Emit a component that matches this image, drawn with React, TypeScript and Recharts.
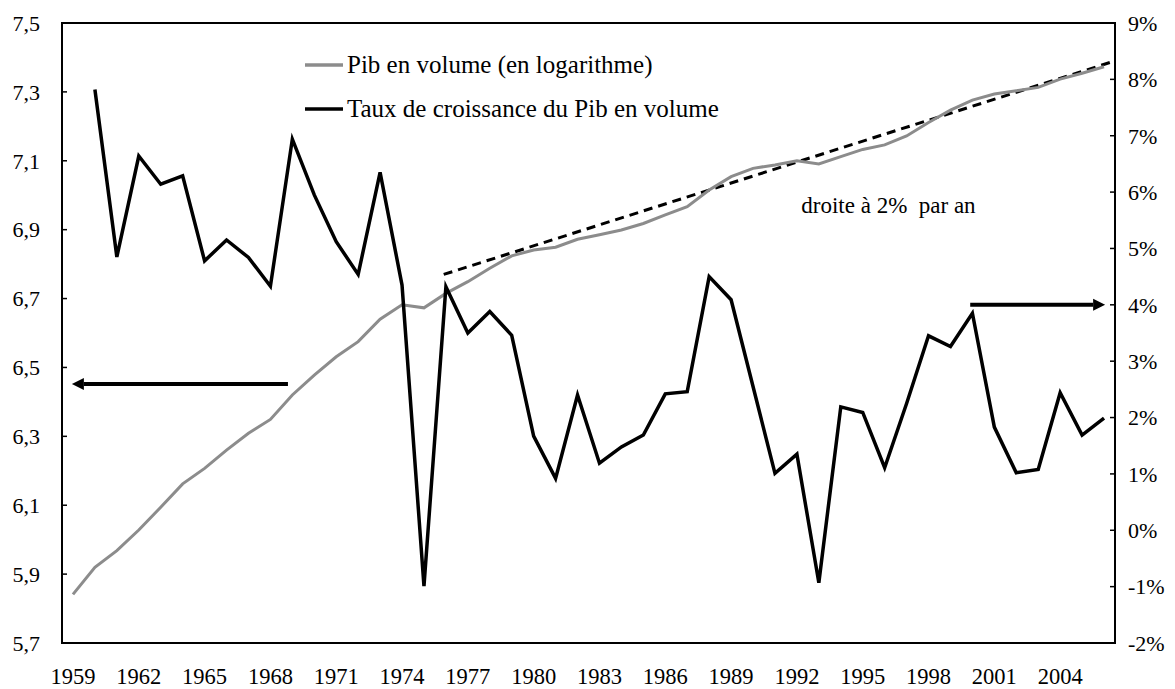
import React from 'react'
import {
  ComposedChart,
  Line,
  XAxis,
  YAxis,
  Legend,
  ReferenceArea,
  ReferenceLine,
  ReferenceDot,
} from 'recharts'

const years = [
  1959, 1960, 1961, 1962, 1963, 1964, 1965, 1966, 1967, 1968, 1969, 1970,
  1971, 1972, 1973, 1974, 1975, 1976, 1977, 1978, 1979, 1980, 1981, 1982,
  1983, 1984, 1985, 1986, 1987, 1988, 1989, 1990, 1991, 1992, 1993, 1994,
  1995, 1996, 1997, 1998, 1999, 2000, 2001, 2002, 2003, 2004, 2005, 2006,
]

// Pib en volume (log), left axis
const pibLog = [
  5.841, 5.92, 5.968, 6.028, 6.094, 6.162, 6.207, 6.26, 6.309, 6.349, 6.42, 6.478,
  6.531, 6.575, 6.64, 6.682, 6.673, 6.715, 6.749, 6.788, 6.824, 6.841, 6.849, 6.872,
  6.885, 6.899, 6.918, 6.943, 6.967, 7.015, 7.054, 7.078, 7.088, 7.1, 7.091, 7.112,
  7.133, 7.146, 7.172, 7.211, 7.247, 7.276, 7.294, 7.303, 7.313, 7.337, 7.354, 7.373,
]

// Taux de croissance (%), right axis -- no value for 1959
const growth = [
  null, 7.82, 4.85, 6.64, 6.14, 6.29, 4.78, 5.15, 4.84, 4.33, 6.94, 5.95,
  5.12, 4.54, 6.35, 4.35, -0.99, 4.32, 3.5, 3.88, 3.46, 1.67, 0.92, 2.4,
  1.19, 1.48, 1.69, 2.42, 2.46, 4.5, 4.09, 2.55, 1.01, 1.35, -0.93, 2.19,
  2.09, 1.11, 2.25, 3.45, 3.26, 3.85, 1.83, 1.02, 1.08, 2.44, 1.69, 1.99,
]

const xLabelYears = [1959, 1962, 1965, 1968, 1971, 1974, 1977, 1980, 1983, 1986, 1989, 1992, 1995, 1998, 2001, 2004]
const leftTicks = [5.7, 5.9, 6.1, 6.3, 6.5, 6.7, 6.9, 7.1, 7.3, 7.5]
const rightTicks = [-2, -1, 0, 1, 2, 3, 4, 5, 6, 7, 8, 9]

// dashed "2% a year" line
const trendStart = { x: 1975.9, y: 6.77 }
const trendEnd = { x: 2006.5, y: 7.39 }

const legendItems = [
  { label: 'Pib en volume (en logarithme)', color: '#8c8c8c' },
  { label: 'Taux de croissance du Pib en volume', color: '#000' },
]

const data = years.map((year, i) => ({ year, pib: pibLog[i], growth: growth[i] }))
// category boundaries for the little tick marks
const boundaries = [...years.map(y => y - 0.5), years[years.length - 1] + 0.5]

const FONT = '"Liberation Serif", "Times New Roman", serif'

const Arrow = (props: any) => {
  const { x1, y1, x2, y2 } = props
  const dir = Math.sign(x2 - x1)
  const head = 12
  return (
    <g>
      <line x1={x1} y1={y1} x2={x2 - dir * head} y2={y2} stroke="#000" strokeWidth={4} />
      <polygon
        points={`${x2},${y2} ${x2 - dir * head},${y2 - 6} ${x2 - dir * head},${y2 + 6}`}
        fill="#000"
      />
    </g>
  )
}

const renderLegend = () => (
  <div style={{ fontFamily: FONT, fontSize: 25, color: '#000' }}>
    {legendItems.map(item => (
      <div key={item.label} style={{ display: 'flex', alignItems: 'center', height: 44 }}>
        <svg width={38} height={6} style={{ display: 'block' }}>
          <line x1={0} y1={3} x2={38} y2={3} stroke={item.color} strokeWidth={3.5} />
        </svg>
        <span style={{ marginLeft: 4, whiteSpace: 'nowrap' }}>{item.label}</span>
      </div>
    ))}
  </div>
)

export default function App() {
  return (
    <div style={{ position: 'absolute', left: 0, top: 0, fontFamily: FONT, background: '#fff' }}>
      <ComposedChart width={1175} height={689} data={data} margin={{ top: 23, right: 0, bottom: 0, left: 0 }}>
        <XAxis
          xAxisId="minor"
          dataKey="year"
          type="number"
          domain={[1958.5, 2006.5]}
          ticks={boundaries}
          interval={0}
          tickFormatter={() => ''}
          tickSize={-6}
          height={0}
          axisLine={{ stroke: '#000', strokeWidth: 2 }}
          tickLine={{ stroke: '#000', strokeWidth: 1.5 }}
        />
        <XAxis
          xAxisId="main"
          dataKey="year"
          type="number"
          domain={[1958.5, 2006.5]}
          ticks={xLabelYears}
          interval={0}
          height={46}
          axisLine={false}
          tickLine={false}
          tickMargin={19}
          tick={{ fill: '#000', fontSize: 22.5 }}
        />
        <YAxis
          yAxisId="left"
          type="number"
          domain={[5.7, 7.5]}
          ticks={leftTicks}
          interval={0}
          width={62}
          tickSize={-5}
          tickMargin={27}
          tickFormatter={(v: number) => v.toFixed(1).replace('.', ',')}
          axisLine={{ stroke: '#000', strokeWidth: 2 }}
          tickLine={{ stroke: '#000', strokeWidth: 1.5 }}
          tick={{ fill: '#000', fontSize: 22 }}
        />
        <YAxis
          yAxisId="right"
          orientation="right"
          type="number"
          domain={[-2, 9]}
          ticks={rightTicks}
          interval={0}
          width={60}
          tickSize={-5}
          tickMargin={18}
          tickFormatter={(v: number) => `${v}%`}
          axisLine={{ stroke: '#000', strokeWidth: 2 }}
          tickLine={{ stroke: '#000', strokeWidth: 1.5 }}
          tick={{ fill: '#000', fontSize: 22, textAnchor: 'start' }}
        />
        {/* plot frame */}
        <ReferenceArea
          xAxisId="main"
          yAxisId="left"
          x1={1958.5}
          x2={2006.5}
          y1={5.7}
          y2={7.5}
          fill="none"
          fillOpacity={0}
          stroke="#000"
          strokeWidth={2}
          ifOverflow="visible"
        />
        <Legend
          content={renderLegend}
          layout="vertical"
          align="center"
          verticalAlign="middle"
          wrapperStyle={{ left: 305, top: 43, width: 'auto' }}
        />
        <ReferenceLine
          xAxisId="main"
          yAxisId="left"
          segment={[trendStart, trendEnd]}
          stroke="#000"
          strokeWidth={3}
          strokeDasharray="9 6"
          ifOverflow="visible"
        />
        <Line
          xAxisId="main"
          yAxisId="left"
          type="linear"
          dataKey="pib"
          stroke="#8c8c8c"
          strokeWidth={3}
          dot={false}
          isAnimationActive={false}
        />
        <Line
          xAxisId="main"
          yAxisId="right"
          type="linear"
          dataKey="growth"
          stroke="#000"
          strokeWidth={3.5}
          dot={false}
          isAnimationActive={false}
        />
        <ReferenceLine
          xAxisId="main"
          yAxisId="left"
          segment={[{ x: 1968.8, y: 6.452 }, { x: 1958.95, y: 6.452 }]}
          shape={Arrow}
          ifOverflow="visible"
        />
        <ReferenceLine
          xAxisId="main"
          yAxisId="right"
          segment={[{ x: 1999.9, y: 4 }, { x: 2006.05, y: 4 }]}
          shape={Arrow}
          ifOverflow="visible"
        />
        <ReferenceDot
          xAxisId="main"
          yAxisId="left"
          x={1992.2}
          y={6.972}
          r={0}
          fill="none"
          stroke="none"
          ifOverflow="visible"
          label={{ value: 'droite à 2%\u00a0 par an', position: 'right', offset: 0, fill: '#000', fontSize: 23 }}
        />
      </ComposedChart>
    </div>
  )
}
